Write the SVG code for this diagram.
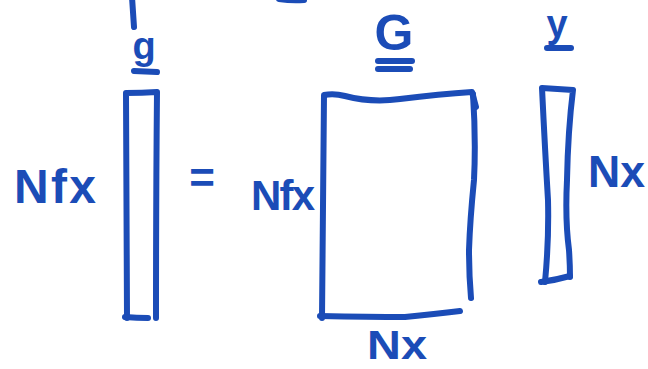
<svg xmlns="http://www.w3.org/2000/svg" width="648" height="369" viewBox="0 0 648 369">
  <style>
    .ink { fill: none; stroke: #1b4cb7; stroke-width: 6; stroke-linecap: round; stroke-linejoin: round; }
    .lbl { fill: #1b4cb7; font-family: "Liberation Sans", Arial, sans-serif; font-weight: bold; }
  </style>
  <rect width="648" height="369" fill="#ffffff"/>

  <!-- cut-off strokes at top edge -->
  <g id="fragments">
    <path class="ink" d="M132,-3 L134,27"/>
    <path class="ink" d="M279,-1 Q292,1 304,0"/>
  </g>

  <!-- vector g -->
  <g id="vector-g">
    <text class="lbl" x="144" y="59" font-size="38" text-anchor="middle">g</text>
    <path class="ink" d="M134,71 L157,72"/>
    <path class="ink" d="M127,318 L126,93 Q142,93 157,92 Q156,200 156,318"/>
    <path class="ink" d="M125,317 Q137,318 148,318"/>
  </g>

  <text id="label-nfx-left" class="lbl" x="14" y="203" font-size="48" textLength="82" lengthAdjust="spacing">Nfx</text>

  <text id="equals" class="lbl" x="202" y="193" font-size="44" text-anchor="middle">=</text>

  <!-- matrix G -->
  <g id="matrix-G">
    <text class="lbl" x="394" y="50" font-size="50" text-anchor="middle">G</text>
    <path class="ink" d="M378,61 L412,61"/>
    <path class="ink" d="M378,69 L410,69"/>
    <path class="ink" d="M322,318 L324,95 Q334,93 345,96 Q372,103 400,99 Q440,94 472,92 L476,107"/>
    <path class="ink" d="M473,94 Q476,140 474,180 Q470,220 469,250 Q469,275 471,298"/>
    <path class="ink" d="M320,316 Q370,317 405,317 Q435,314 460,311"/>
    <text class="lbl" x="251" y="210" font-size="42" textLength="64" lengthAdjust="spacing">Nfx</text>
    <text class="lbl" x="367" y="359" font-size="40" textLength="60" lengthAdjust="spacingAndGlyphs">Nx</text>
  </g>

  <!-- vector y -->
  <g id="vector-y">
    <text class="lbl" x="557" y="37" font-size="38" text-anchor="middle">y</text>
    <path class="ink" d="M547,48 L571,48"/>
    <path class="ink" d="M545,282 Q549,240 548,200 Q545,150 542,88 Q558,89 573,90 Q568,130 567,180 Q565,220 569,250 Q570,265 570,277"/>
    <path class="ink" d="M541,282 Q556,280 570,276"/>
    <text class="lbl" x="588" y="187" font-size="44" textLength="57" lengthAdjust="spacingAndGlyphs">Nx</text>
  </g>
</svg>
